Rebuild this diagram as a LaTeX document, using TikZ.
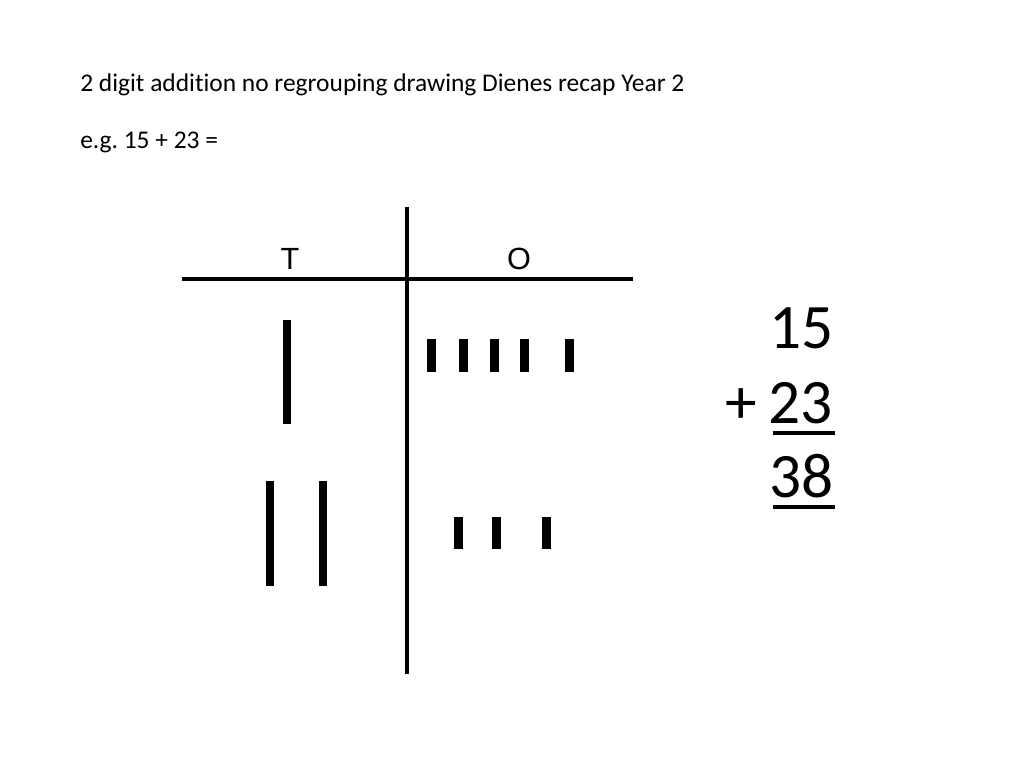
\documentclass[tikz,border=0pt]{standalone}
\usepackage{fontspec}
\setmainfont[Ligatures=NoCommon]{Carlito}
\newfontfamily\arialfont{Liberation Sans}
\frenchspacing
\begin{document}
\begin{tikzpicture}[x=0.75pt,y=-0.75pt,
  bar/.style={fill=black},
  rule/.style={line width=2.4pt},
  title/.style={anchor=base west,inner sep=0pt,font=\fontsize{19.1pt}{22pt}\selectfont},
  head/.style={anchor=base,inner sep=0pt,font=\arialfont\fontsize{23pt}{26pt}\selectfont},
  big/.style={anchor=base east,inner sep=0pt,font=\fontsize{47.5pt}{52pt}\selectfont},
  uline/.style={line width=2.6pt}]
\useasboundingbox (0,0) rectangle (1024,768);
\fill[white] (0,0) rectangle (1024,768);
% titles
\node[title] (t1) at (80,91) {2 digit addition no regrouping drawing Dienes recap Year 2};
\node[title] (t2) at (80,148) {e.g. 15 + 23 =};
% grid
\coordinate (vtop) at (407,207);
\coordinate (vbot) at (407,674);
\coordinate (hl) at (182,279);
\coordinate (hr) at (633,279);
\draw[rule] (vtop) -- (vbot);
\draw[rule] (hl) -- (hr);
\node[head] (T) at (290,269) {T};
\node[head] (O) at (519,269) {O};
% row 1 tens
\fill[bar] (283,320) rectangle (291,424);
% row 1 ones
\foreach \x in {431,463,494,524,569} {\fill[bar] (\x-4.5,339) rectangle (\x+4.5,372);}
% row 2 tens
\foreach \x in {270,323} {\fill[bar] (\x-4.3,481) rectangle (\x+4.3,586);}
% row 2 ones
\foreach \x in {458,496,546} {\fill[bar] (\x-4.5,517) rectangle (\x+4.5,549);}
% sum
\node[big] (n15) at (834,348) {15};
\node[big] (n23) at (833,423) {23};
\node[big,anchor=base] (plus) at (741,423) {+};
\node[big] (n38) at (834,497) {38};
\draw[uline] (773,433) -- (835,433);
\draw[uline] (773,507) -- (835,507);
\end{tikzpicture}
\end{document}
